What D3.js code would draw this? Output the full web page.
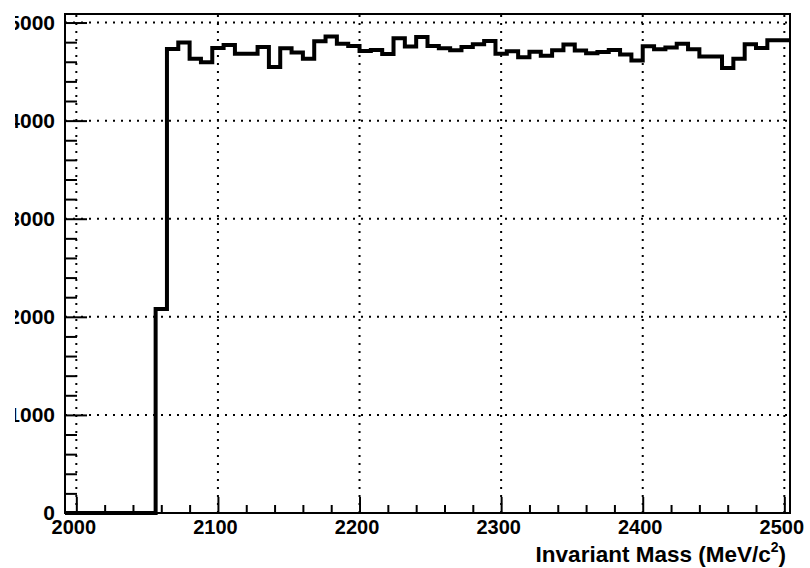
<!DOCTYPE html>
<html>

<head>
  <title>Invariant Mass histogram</title>
  <meta charset="utf-8">
  <script src="https://d3js.org/d3.v7.min.js"></script>
  <style type="text/css">
    body {
      margin: 0;
      background: #fff;
    }

    .axis text {
      font-family: "Liberation Sans", Arial, Helvetica, sans-serif;
      font-weight: bold;
      fill: #000;
    }

    .axis line {
      stroke: #000;
      stroke-width: 2;
    }

    .grid line {
      stroke: #000;
      stroke-width: 2;
      stroke-dasharray: 2, 6;
    }
  </style>
</head>

<body>

  <svg id="chart"></svg>

  <script>
    // bin edges (MeV/c^2), 64 bins of 8 MeV
    var binEdges = [
      1992, 2000, 2008, 2016, 2024, 2032, 2040, 2048, 2056, 2064, 2072, 2080, 2088,
      2096, 2104, 2112, 2120, 2128, 2136, 2144, 2152, 2160, 2168, 2176, 2184, 2192,
      2200, 2208, 2216, 2224, 2232, 2240, 2248, 2256, 2264, 2272, 2280, 2288, 2296,
      2304, 2312, 2320, 2328, 2336, 2344, 2352, 2360, 2368, 2376, 2384, 2392, 2400,
      2408, 2416, 2424, 2432, 2440, 2448, 2456, 2464, 2472, 2480, 2488, 2496, 2504
    ];

    // entries per bin
    var counts = [
      0, 0, 0, 0, 0, 0, 0, 0, 2080,
      4730, 4796, 4630, 4595, 4740, 4771, 4682, 4682, 4751, 4546, 4737, 4694, 4630,
      4809, 4858, 4784, 4762, 4709, 4720, 4679, 4839, 4755, 4852, 4760, 4737, 4717,
      4750, 4779, 4811, 4681, 4707, 4646, 4702, 4661, 4718, 4776, 4716, 4686, 4699,
      4720, 4674, 4613, 4757, 4728, 4745, 4784, 4728, 4655, 4655, 4536, 4630, 4779,
      4740, 4819, 4819
    ];

    var xTicks = [2000, 2100, 2200, 2300, 2400, 2500];
    var yTicks = [0, 1000, 2000, 3000, 4000, 5000];
    var xTitle = "Invariant Mass (MeV/c";

    var W = 810, H = 568;
    var frame = { left: 65, right: 790, top: 14, bottom: 513 };

    var svg = d3.select("#chart")
      .attr("width", W)
      .attr("height", H);

    svg.append("rect")
      .attr("width", W).attr("height", H)
      .attr("fill", "#fff");

    // scales
    var x = d3.scaleLinear()
      .domain([binEdges[0], binEdges[binEdges.length - 1]])
      .range([frame.left, frame.right]);

    var y = d3.scaleLinear()
      .domain([0, 5087])
      .range([frame.bottom, frame.top]);

    // dotted grid
    var grid = svg.append("g").attr("class", "grid");
    grid.selectAll(".gx")
      .data(xTicks)
      .enter().append("line")
      .attr("x1", function (d) { return x(d); })
      .attr("x2", function (d) { return x(d); })
      .attr("y1", frame.bottom)
      .attr("y2", frame.top);
    grid.selectAll(".gy")
      .data(yTicks.slice(1))
      .enter().append("line")
      .attr("x1", frame.left)
      .attr("x2", frame.right)
      .attr("y1", function (d) { return y(d); })
      .attr("y2", function (d) { return y(d); });

    // x axis: major + minor ticks pointing up into the frame
    var xMinor = d3.range(2000, 2501, 20).filter(function (d) { return d % 100 !== 0; });

    svg.append("g")
      .attr("class", "x axis")
      .attr("transform", "translate(0," + frame.bottom + ")")
      .call(d3.axisBottom(x).tickValues(xMinor).tickSize(-8).tickFormat(""))
      .call(function (g) { g.select(".domain").remove(); });

    var xAxis = svg.append("g")
      .attr("class", "x axis")
      .attr("transform", "translate(0," + frame.bottom + ")")
      .call(d3.axisBottom(x).tickValues(xTicks).tickSize(-16).tickPadding(7).tickFormat(d3.format("d")));
    xAxis.select(".domain").remove();
    xAxis.selectAll("text")
      .attr("font-size", 20)
      .attr("dx", -3);

    // y axis, labels clipped on the left like the original
    svg.append("clipPath").attr("id", "ylabClip")
      .append("rect").attr("x", 15).attr("y", 0).attr("width", W).attr("height", H);

    var yMinor = d3.range(0, 5001, 200).filter(function (d) { return d % 1000 !== 0; });

    svg.append("g")
      .attr("class", "y axis")
      .attr("transform", "translate(" + frame.left + ",0)")
      .call(d3.axisLeft(y).tickValues(yMinor).tickSize(-12).tickFormat(""))
      .call(function (g) { g.select(".domain").remove(); });

    var yAxis = svg.append("g")
      .attr("clip-path", "url(#ylabClip)")
      .append("g")
      .attr("class", "y axis")
      .attr("transform", "translate(" + frame.left + ",0)")
      .call(d3.axisLeft(y).tickValues(yTicks).tickSize(-22).tickPadding(10).tickFormat(d3.format("d")));
    yAxis.select(".domain").remove();
    yAxis.selectAll("text")
      .attr("font-size", 21);

    // frame
    svg.append("rect")
      .attr("x", frame.left)
      .attr("y", frame.top)
      .attr("width", frame.right - frame.left)
      .attr("height", frame.bottom - frame.top)
      .attr("fill", "none")
      .attr("stroke", "#000")
      .attr("stroke-width", 2);

    // histogram outline
    var pts = counts.map(function (c, i) { return [binEdges[i], c]; });
    pts.push([binEdges[binEdges.length - 1], counts[counts.length - 1]]);

    var line = d3.line()
      .x(function (d) { return x(d[0]); })
      .y(function (d) { return y(d[1]); })
      .curve(d3.curveStepAfter);

    svg.append("path")
      .datum(pts)
      .attr("d", line)
      .attr("fill", "none")
      .attr("stroke", "#000")
      .attr("stroke-width", 4)
      .attr("stroke-linejoin", "miter");

    // axis title
    var title = svg.append("text")
      .attr("class", "axis")
      .attr("x", 786)
      .attr("y", 562)
      .attr("text-anchor", "end")
      .attr("font-family", "'Liberation Sans', Arial, Helvetica, sans-serif")
      .attr("font-weight", "bold")
      .attr("font-size", 22.5);
    title.append("tspan").text(xTitle);
    title.append("tspan")
      .attr("font-size", 14)
      .attr("dy", -10)
      .text("2");
    title.append("tspan")
      .attr("dy", 10)
      .text(")");
  </script>
</body>

</html>
